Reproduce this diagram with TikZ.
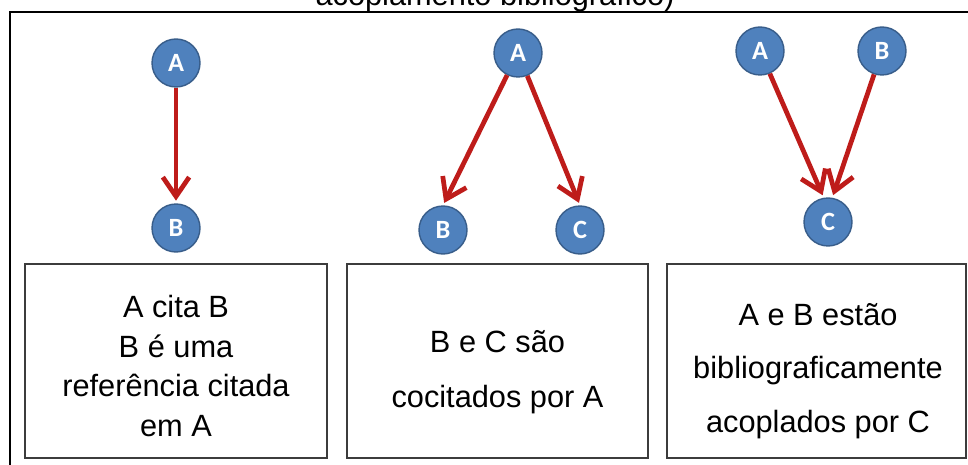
\documentclass[tikz,border=0pt]{standalone}
\usepackage{fontspec}
\setmainfont{Liberation Sans}
\newfontfamily\circfont{Carlito}
\usetikzlibrary{arrows.meta}
\definecolor{nodeblue}{RGB}{79,129,189}
\definecolor{nodeedge}{RGB}{56,93,138}
\definecolor{citered}{RGB}{190,28,26}
\definecolor{boxgray}{RGB}{60,60,60}

\begin{document}
\begin{tikzpicture}[x = 0.02cm, y = 0.02cm,
	doc/.style = {circle, fill = nodeblue, draw = nodeedge, line width = 0.8pt, minimum size = 0.96cm, inner sep = 0pt, text = white, font = \circfont\bfseries\fontsize{15}{15}\selectfont},
	cites/.style = {draw = citered, line width = 2.7pt, -{Straight Barb[length = 11pt, width = 15pt]}, shorten > = 1.5pt},
	panel/.style = {draw = boxgray, line width = 0.9pt, minimum width = 6.0cm, minimum height = 3.88cm, inner sep = 0pt},
	caption/.style = {align = center, inner sep = 0pt, font = \fontsize{17.5}{#1}\selectfont}]

	\clip (0, 0) rectangle (968, 464);

	% outer frame and cut title
	\draw[line width = 1.1pt, black] (10, -20) -- (10, 452) -- (990, 452);
	\node[anchor = base, font = \fontsize{17.5}{20}\selectfont] (title) at (495, 458) {acoplamento bibliográfico)};

	% citacao
	\node[doc] (A1) at (176, 401) {A};
	\node[doc] (B1) at (176, 236) {B};
	\draw[cites] (A1) -- (B1);

	% cocitacao
	\node[doc] (A2) at (518, 411) {A};
	\node[doc] (B2) at (443, 234) {B};
	\node[doc] (C2) at (580, 234) {C};
	\draw[cites] (A2) -- (B2.north);
	\draw[cites] (A2) -- (C2.north);

	% acoplamento
	\node[doc] (A3) at (760, 413) {A};
	\node[doc] (B3) at (882, 413) {B};
	\node[doc] (C3) at (828, 242) {C};
	\draw[cites] (A3) -- (C3.100);
	\draw[cites] (B3) -- (C3.80);

	\node[panel, minimum width = 6.04cm] (box1) at (176, 103) {};
	\node[panel, minimum width = 6.02cm] (box2) at (497.5, 103) {};
	\node[panel, minimum width = 5.98cm] (box3) at (816.5, 103) {};

	\node[caption = 22.7pt] (txt1) at (176, 98) {A cita B\\B é uma\\referência citada\\em A};
	\node[caption = 31.2pt] (txt2) at (497.5, 92) {B e C são\\cocitados por A};
	\node[caption = 30.6pt] (txt3) at (818, 93) {A e B estão\\bibliograficamente\\acoplados por C};

\end{tikzpicture}
\end{document}
